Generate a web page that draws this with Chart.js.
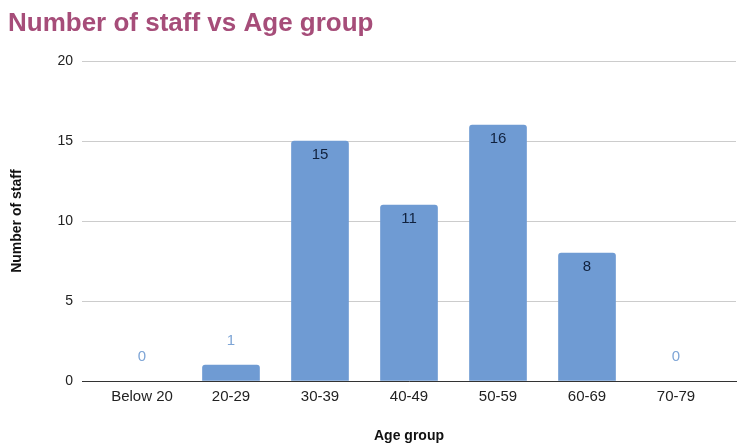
<!DOCTYPE html>
<html>
<head>
<meta charset="utf-8">
<script src="https://cdn.jsdelivr.net/npm/chart.js@4"></script>
<style>
  html, body { margin: 0; padding: 0; background: #fff; }
  #wrap { width: 748px; height: 445px; position: relative; }
</style>
</head>
<body>
<div id="wrap"><canvas id="myChart"></canvas></div>
<script>
var ageGroups = ['Below 20', '20-29', '30-39', '40-49', '50-59', '60-69', '70-79'];
var staffCounts = [0, 1, 15, 11, 16, 8, 0];
var yTicks = [0, 5, 10, 15, 20];

var barColor = '#6f9bd3';
var fontName = "'Liberation Sans', Arial, sans-serif";

// value labels: inside the bar top when tall enough, otherwise above it
var valueLabels = {
    id: 'valueLabels',
    afterDatasetsDraw: function (chart) {
        var ctx = chart.ctx;
        var meta = chart.getDatasetMeta(0);
        ctx.save();
        ctx.font = '15px ' + fontName;
        ctx.textAlign = 'center';
        ctx.textBaseline = 'middle';
        meta.data.forEach(function (bar, i) {
            var h = bar.base - bar.y;
            if (h > 30) {
                ctx.fillStyle = '#10213d';
                ctx.fillText(staffCounts[i], bar.x, bar.y + 14);
            } else {
                ctx.fillStyle = '#7ea5d6';
                ctx.fillText(staffCounts[i], bar.x, bar.y - 24);
            }
        });
        ctx.restore();
    }
};

function CrearGraf() {
    var ctx = document.getElementById('myChart').getContext('2d');

    var points = [];
    for (let i = 0; i < staffCounts.length; i++) {
        points.push({ x: i, y: staffCounts[i] });
    }

    var data = {
        datasets: [{
            label: 'Number of staff',
            data: points,
            backgroundColor: function (c) {
                return staffCounts[c.dataIndex] === 0 ? 'rgba(0,0,0,0)' : barColor;
            },
            barThickness: 57,
            borderRadius: 3,
            borderSkipped: 'start'
        }]
    };

    var options = {
        responsive: true,
        maintainAspectRatio: false,
        animation: false,
        layout: { padding: { left: 8, right: 12, top: 0, bottom: 0 } },
        plugins: {
            legend: { display: false },
            tooltip: { enabled: false },
            title: {
                display: true,
                text: 'Number of staff vs Age group',
                align: 'start',
                color: '#a64d79',
                font: { family: fontName, size: 26, weight: 'bold' },
                padding: { top: 8, bottom: 22 }
            }
        },
        scales: {
            x: {
                type: 'linear',
                offset: false,
                min: -0.674,
                max: 6.674,
                afterBuildTicks: function (scale) {
                    scale.ticks = ageGroups.map(function (_, i) { return { value: i }; });
                },
                afterFit: function (scale) { scale.height = 64; },
                grid: { display: false, drawTicks: false },
                border: { display: true, color: '#333', width: 1 },
                ticks: {
                    autoSkip: false,
                    maxRotation: 0,
                    padding: 7,
                    color: '#222',
                    font: { family: fontName, size: 15 },
                    callback: function (v) { return ageGroups[v]; }
                },
                title: {
                    display: true,
                    text: 'Age group',
                    color: '#111',
                    font: { family: fontName, size: 14, weight: 'bold' },
                    padding: { top: 0, bottom: 0 }
                }
            },
            y: {
                min: 0,
                max: 20,
                afterBuildTicks: function (scale) {
                    scale.ticks = yTicks.map(function (v) { return { value: v }; });
                },
                afterFit: function (scale) { scale.width = 74; },
                grid: { color: '#cccccc', drawTicks: false },
                border: { display: false },
                ticks: {
                    padding: 9,
                    color: '#222',
                    font: { family: fontName, size: 14 }
                },
                title: {
                    display: true,
                    text: 'Number of staff',
                    color: '#111',
                    font: { family: fontName, size: 14, weight: 'bold' },
                    padding: { top: 1, bottom: 0 }
                }
            }
        }
    };

    new Chart(ctx, {
        type: 'bar',
        data: data,
        options: options,
        plugins: [valueLabels]
    });
}

CrearGraf();
</script>
</body>
</html>
